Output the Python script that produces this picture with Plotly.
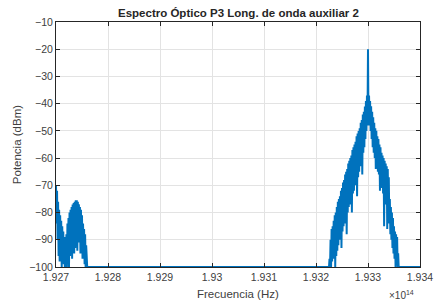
import plotly.graph_objects as go

# Frequencies in units of 1e14 Hz
left_start = 1.92700
right_start = 1.93224
step = 0.00002
freq_end = 1.93400

left_upper = [-70, -72, -76, -79, -81, -83, -85, -87, -89, -90, -88, -84, -82, -80, -79, -78,
              -77, -76.5, -76, -75.5, -75.5, -76, -77, -78, -79, -81, -84, -86, -88, -92, -100]
left_lower = [-84, -90, -96, -98, -95, -100, -97, -99, -100, -100, -100, -98, -100, -96, -94, -97,
              -92, -95, -93, -90, -94, -91, -89, -95, -92, -97, -94, -99, -100, -100, -100]

right_upper = [-100, -97, -90, -86, -85, -83, -81, -80, -78, -76, -75, -74, -72, -71, -69, -68,
               -66, -65, -64, -62, -61, -60, -59, -57, -56, -55, -54, -52, -51, -50, -49, -47,
               -46, -44, -43, -41, -39, -37, -20, -37, -39, -41, -43, -45, -47, -49, -50, -52,
               -53, -55, -56, -58, -59, -60, -61, -62, -63, -64, -67, -75, -78, -80, -82, -85,
               -87, -88, -89, -95, -100, -100, -100, -100]
right_lower = [-100, -100, -100, -98, -97, -95, -100, -96, -94, -92, -90, -88, -93, -87, -85, -84,
               -82, -88, -80, -78, -77, -75, -80, -73, -72, -70, -69, -74, -67, -65, -63, -61,
               -66, -58, -56, -53, -50, -47, -48, -47, -50, -53, -56, -58, -60, -64, -62, -65,
               -66, -72, -69, -71, -73, -85, -75, -77, -86, -80, -84, -88, -90, -93, -95, -97,
               -100, -98, -100, -100, -100, -100, -100, -100]

x_ticks = [1.927, 1.928, 1.929, 1.930, 1.931, 1.932, 1.933, 1.934]
x_tick_labels = ["1.927", "1.928", "1.929", "1.93", "1.931", "1.932", "1.933", "1.934"]
y_ticks = [-100, -90, -80, -70, -60, -50, -40, -30, -20, -10]

xs, ys = [], []
for start, up, lo in ((left_start, left_upper, left_lower), (right_start, right_upper, right_lower)):
    for i, (u, l) in enumerate(zip(up, lo)):
        f = start + i * step
        xs += [f, f + step / 2]
        ys += [u, l]
xs.append(freq_end)
ys.append(-100)

fig = go.Figure()
fig.add_trace(go.Scatter(x=xs, y=ys, mode="lines",
                         line=dict(color="#0072BD", width=2), showlegend=False))

axis_common = dict(showline=True, linecolor="#262626", linewidth=1, mirror="ticks",
                   ticks="inside", ticklen=4, tickcolor="#262626",
                   showgrid=True, gridcolor="#e3e3e3", gridwidth=1, zeroline=False,
                   tickfont=dict(family="Liberation Sans, Arial", size=10.5, color="#404040"))

fig.update_layout(
    width=437, height=302,
    margin=dict(l=56, r=4, t=22, b=35),
    paper_bgcolor="white", plot_bgcolor="white",
    xaxis=dict(range=[1.927, 1.934], tickvals=x_ticks, ticktext=x_tick_labels,
               ticklabeloverflow="allow", **axis_common),
    yaxis=dict(range=[-100, -10], tickvals=y_ticks, **axis_common),
    annotations=[
        dict(text="<b>Espectro Óptico P3 Long. de onda auxiliar 2</b>", xref="paper", yref="paper",
             x=0.5, y=1.0, yshift=9, xanchor="center", yanchor="middle", showarrow=False,
             font=dict(family="Liberation Sans, Arial", size=11.5, color="#262626")),
        dict(text="Frecuencia (Hz)", xref="paper", yref="paper", x=0.5, y=-0.11,
             xanchor="center", yanchor="middle", showarrow=False,
             font=dict(family="Liberation Sans, Arial", size=11.5, color="#404040")),
        dict(text="Potencia (dBm)", xref="paper", yref="paper", x=-0.108, y=0.5, textangle=-90,
             xanchor="center", yanchor="middle", showarrow=False,
             font=dict(family="Liberation Sans, Arial", size=11.5, color="#404040")),
        dict(text="×10<sup>14</sup>", xref="paper", yref="paper", x=0.91, y=-0.115,
             xanchor="left", yanchor="middle", showarrow=False,
             font=dict(family="Liberation Sans, Arial", size=10, color="#404040")),
    ],
)

fig.write_html("out.html", config={"displayModeBar": False},
               post_script="document.body.style.margin='0';")
